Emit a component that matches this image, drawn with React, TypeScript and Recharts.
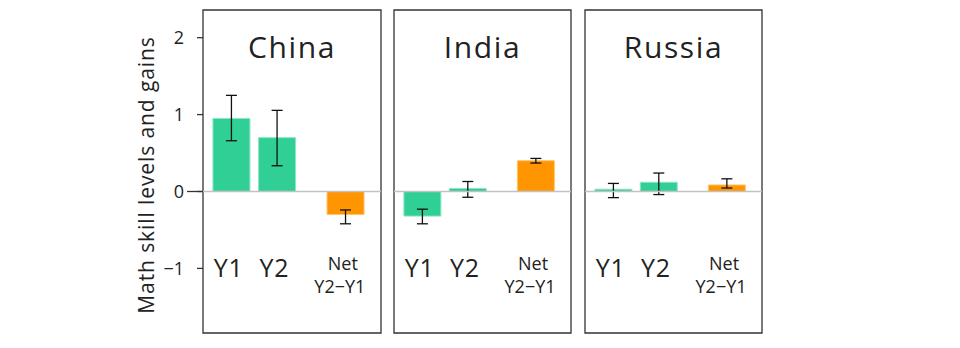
import React from 'react';
import { BarChart, Bar, XAxis, YAxis, ErrorBar, Cell, ReferenceLine, ReferenceArea } from 'recharts';

// ---- data ----
const countries = ['China', 'India', 'Russia'];
const categoryPositions = [0, 1, 2.5];
const categoryLabels = [['Y1'], ['Y2'], ['Net', 'Y2−Y1']];
const categoryKinds = ['level', 'level', 'gain'];

const chinaValues = [0.95, 0.7, -0.3];
const chinaLow = [0.66, 0.335, -0.42];
const chinaHigh = [1.25, 1.055, -0.24];

const indiaValues = [-0.32, 0.04, 0.4];
const indiaLow = [-0.42, -0.075, 0.37];
const indiaHigh = [-0.23, 0.13, 0.43];

const russiaValues = [0.03, 0.12, 0.085];
const russiaLow = [-0.08, -0.04, 0.045];
const russiaHigh = [0.105, 0.24, 0.165];

const yTicks = [-1, 0, 1, 2];
const yDomain: [number, number] = [-1.84, 2.36];
const xDomain: [number, number] = [-0.63, 3.27];
const yLabel = 'Math skill levels and gains';

// ---- style ----
const FONT = '"Open Sans", "Noto Sans", sans-serif';
const GREEN = '#2fcf95';
const GREEN_EDGE = '#8fe5c5';
const ORANGE = '#ff9500';
const ORANGE_EDGE = '#ffc470';
const INK = '#222';

const buildRows = (values: number[], low: number[], high: number[]) =>
  values.map((v, i) => ({
    pos: categoryPositions[i],
    value: v,
    err: [v - low[i], high[i] - v],
    kind: categoryKinds[i],
  }));

const panels = [
  { name: countries[0], rows: buildRows(chinaValues, chinaLow, chinaHigh) },
  { name: countries[1], rows: buildRows(indiaValues, indiaLow, indiaHigh) },
  { name: countries[2], rows: buildRows(russiaValues, russiaLow, russiaHigh) },
];

const XTick = (props: any) => {
  const { x, y, payload } = props;
  const idx = categoryPositions.indexOf(payload.value);
  const lines = categoryLabels[idx] || [];
  if (lines.length === 1) {
    return (
      <text x={x - 3} y={y - 64} textAnchor="middle" fontSize={25} fill={INK} fontFamily={FONT} letterSpacing={0.8}>
        {lines[0]}
      </text>
    );
  }
  return (
    <text textAnchor="middle" fill={INK} fontFamily={FONT} fontSize={18}>
      <tspan x={x - 3} y={y - 71}>{lines[0]}</tspan>
      <tspan x={x - 6} y={y - 48}>{lines[1]}</tspan>
    </text>
  );
};

const YTick = (props: any) => {
  const { x, y, payload } = props;
  const v = payload.value as number;
  const label = v < 0 ? '−' + Math.abs(v) : String(v);
  return (
    <g>
      <text x={x} y={y} dy="0.36em" textAnchor="end" fontSize={18} fill={INK} fontFamily={FONT}>
        {label}
      </text>
      {v === 0 && <line x1={x + 3} x2={x + 19} y1={y} y2={y} stroke="#333" strokeWidth={1.3} />}
    </g>
  );
};

const Panel = ({ panel, first, left, width }: { panel: any; first: boolean; left: number; width: number }) => (
  <div style={{ position: 'absolute', left, top: 0 }}>
    <BarChart
      width={width}
      height={348}
      data={panel.rows}
      margin={{ top: 10, right: 2, bottom: 0, left: first ? 130 : 2 }}
    >
      <XAxis
        dataKey="pos"
        type="number"
        domain={xDomain}
        allowDataOverflow
        ticks={categoryPositions}
        tick={(p: any) => <XTick {...p} />}
        tickLine={false}
        axisLine={false}
        height={15}
        interval={0}
      />
      <YAxis
        type="number"
        domain={yDomain}
        allowDataOverflow
        ticks={yTicks}
        hide={!first}
        width={first ? 73 : 0}
        tickSize={6}
        tickMargin={13}
        tickLine={{ stroke: '#333', strokeWidth: 1.3 }}
        axisLine={false}
        tick={(p: any) => <YTick {...p} />}
        label={
          first
            ? {
                value: yLabel,
                content: () => (
                  <text
                    x={146}
                    y={175}
                    transform="rotate(-90 146 175)"
                    textAnchor="middle"
                    dominantBaseline="central"
                    fontSize={21}
                    fill={INK}
                    fontFamily={FONT}
                    letterSpacing={0.9}
                  >
                    {yLabel}
                  </text>
                ),
              }
            : undefined
        }
      />
      <ReferenceArea
        x1={xDomain[0]}
        x2={xDomain[1]}
        y1={yDomain[0]}
        y2={yDomain[1]}
        fill="none"
        fillOpacity={0}
        stroke="#333"
        strokeWidth={1.3}
        ifOverflow="visible"
        label={{
          value: panel.name,
          position: 'insideTop',
          offset: 27,
          fontSize: 30,
          fill: INK,
          fontFamily: FONT,
          letterSpacing: 1.6,
        }}
      />
      <Bar dataKey="value" barSize={37} isAnimationActive={false} strokeWidth={1}>
        {panel.rows.map((r: any, i: number) => (
          <Cell
            key={i}
            fill={r.kind === 'gain' ? ORANGE : GREEN}
            stroke={r.kind === 'gain' ? ORANGE_EDGE : GREEN_EDGE}
          />
        ))}
        <ErrorBar dataKey="err" width={5.5} stroke="#111" strokeWidth={1.3} direction="y" />
      </Bar>
      <ReferenceLine y={0} stroke="#c2c2c2" strokeWidth={1.5} />
    </BarChart>
  </div>
);

export default function App() {
  return (
    <div
      style={{
        position: 'absolute',
        left: 0,
        top: 0,
        width: 960,
        height: 348,
        background: '#fff',
        fontFamily: FONT,
        overflow: 'hidden',
      }}
    >
      <Panel panel={panels[0]} first left={0} width={383} />
      <Panel panel={panels[1]} first={false} left={392} width={181} />
      <Panel panel={panels[2]} first={false} left={583} width={181} />
    </div>
  );
}
